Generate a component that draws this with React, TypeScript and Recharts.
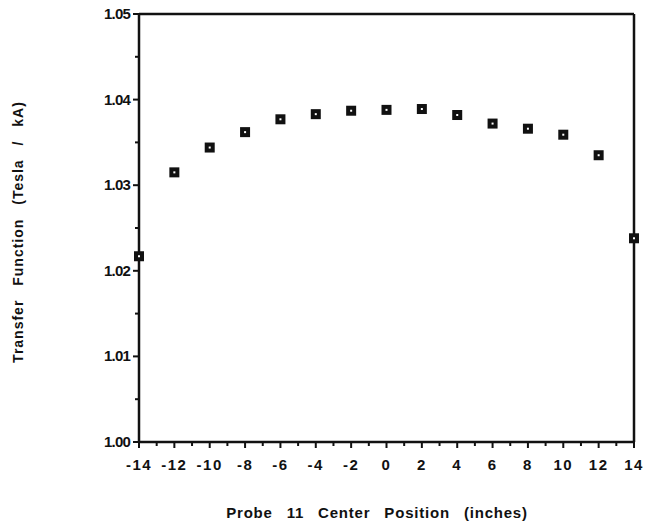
import React from "react";
import {
  ScatterChart,
  Scatter,
  XAxis,
  YAxis,
  ReferenceLine,
} from "recharts";

// probe center position (inches) and measured transfer function (T/kA)
const positions = [-14, -12, -10, -8, -6, -4, -2, 0, 2, 4, 6, 8, 10, 12, 14];
const transfer = [
  1.0217, 1.0315, 1.0344, 1.0362, 1.0377, 1.0383, 1.0387, 1.0388, 1.0389,
  1.0382, 1.0372, 1.0366, 1.0359, 1.0335, 1.0238,
];
const xTicks = [
  -14, -13, -12, -11, -10, -9, -8, -7, -6, -5, -4, -3, -2, -1, 0, 1, 2, 3, 4,
  5, 6, 7, 8, 9, 10, 11, 12, 13, 14,
];
const yTicks = [1.0, 1.005, 1.01, 1.015, 1.02, 1.025, 1.03, 1.035, 1.04, 1.045, 1.05];
const yLabels = ["1.00", "1.01", "1.02", "1.03", "1.04", "1.05"];

const data = positions.map((x, i) => ({ x, y: transfer[i] }));

const font = "'Liberation Sans', Arial, sans-serif";

const XTick = (props: any) => {
  const { x, y, payload } = props;
  const major = payload.value % 2 === 0;
  return (
    <g>
      <line x1={x} x2={x} y1={y} y2={y + (major ? 6 : 4)} stroke="#111" strokeWidth={2} />
      {major && (
        <text
          x={x}
          y={y + 28}
          textAnchor="middle"
          fontFamily={font}
          fontWeight="bold"
          fontSize={15}
          letterSpacing={1.5}
          fill="#111"
        >
          {payload.value}
        </text>
      )}
    </g>
  );
};

const YTick = (props: any) => {
  const { x, y, payload } = props;
  const label = payload.value.toFixed(2);
  const major = Math.abs(payload.value * 100 - Math.round(payload.value * 100)) < 1e-6 && yLabels.includes(label);
  return (
    <g>
      <line x1={x - (major ? 6 : 4)} x2={x} y1={y} y2={y} stroke="#111" strokeWidth={2} />
      {major && (
        <text
          x={x - 9}
          y={y + 5}
          textAnchor="end"
          fontFamily={font}
          fontWeight="bold"
          fontSize={15}
          letterSpacing={-0.8}
          fill="#111"
        >
          {label}
        </text>
      )}
    </g>
  );
};

const Marker = (props: any) => {
  const { cx, cy } = props;
  return (
    <g>
      <rect x={cx - 5} y={cy - 5} width={10} height={10} fill="#111" />
      <rect x={cx - 1} y={cy - 1} width={2} height={2} fill="#fff" />
    </g>
  );
};

export default function App() {
  return (
    <div style={{ position: "absolute", left: 0, top: 0, background: "#fff" }}>
      <ScatterChart
        width={645}
        height={527}
        margin={{ top: 14, right: 11, bottom: 0, left: 0 }}
      >
        <XAxis
          type="number"
          dataKey="x"
          domain={[-14, 14]}
          ticks={xTicks}
          interval={0}
          tickSize={0}
          tickMargin={0}
          tickLine={false}
          tick={<XTick />}
          axisLine={{ stroke: "#111", strokeWidth: 2.5 }}
          height={85}
        />
        <YAxis
          type="number"
          dataKey="y"
          domain={[1.0, 1.05]}
          ticks={yTicks}
          interval={0}
          tickSize={0}
          tickMargin={0}
          tickLine={false}
          tick={<YTick />}
          axisLine={{ stroke: "#111", strokeWidth: 2.5 }}
          width={139}
        />
        <ReferenceLine y={1.05} stroke="#111" strokeWidth={2.5} />
        <ReferenceLine x={14} stroke="#111" strokeWidth={2.5} />
        <Scatter data={data} shape={<Marker />} isAnimationActive={false} />
        <text
          x={19}
          y={232}
          transform="rotate(-90 19 232)"
          textAnchor="middle"
          dominantBaseline="middle"
          fontFamily={font}
          fontWeight="bold"
          fontSize={14}
          letterSpacing={1}
          wordSpacing={9}
          fill="#111"
        >
          Transfer Function (Tesla / kA)
        </text>
        <text
          x={377}
          y={518}
          textAnchor="middle"
          fontFamily={font}
          fontWeight="bold"
          fontSize={15}
          letterSpacing={0.8}
          wordSpacing={9}
          fill="#111"
        >
          Probe 11 Center Position (inches)
        </text>
      </ScatterChart>
    </div>
  );
}
